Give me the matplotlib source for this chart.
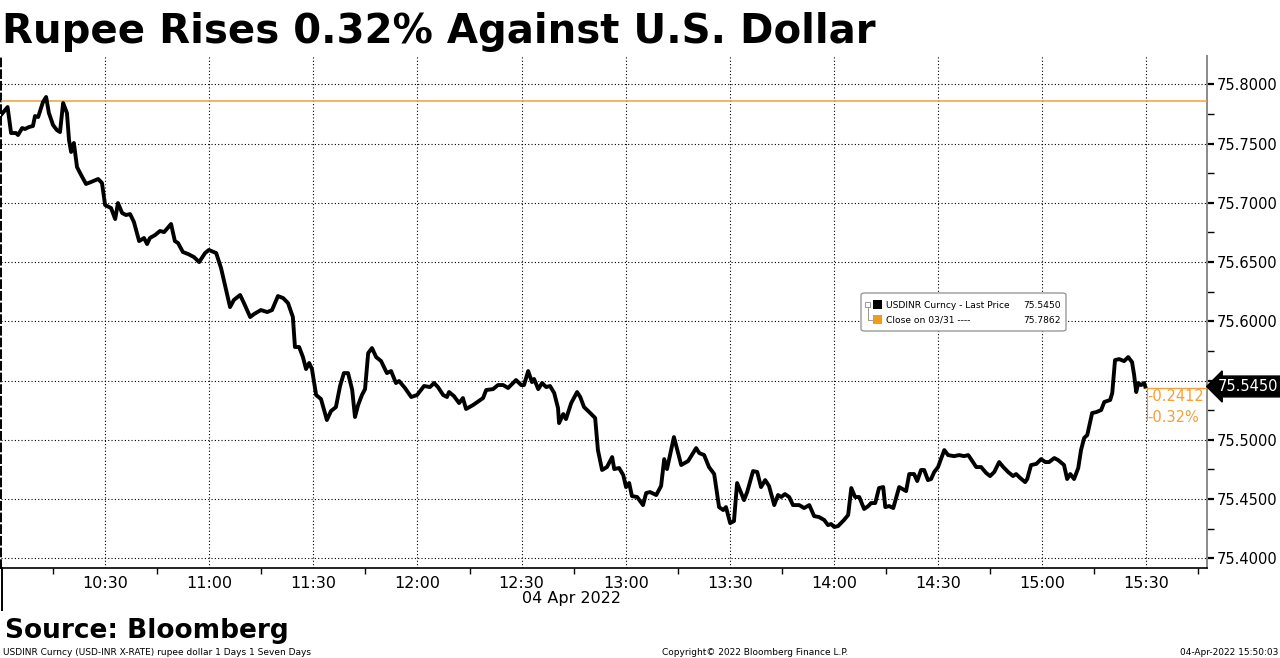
import numpy as np
import matplotlib
matplotlib.use("Agg")
from matplotlib import pyplot as plt
from matplotlib.patches import FancyBboxPatch, Rectangle
from matplotlib.lines import Line2D

# minutes after 10:00 on 04 Apr 2022
minutes = [0.0, 1.9, 2.9, 4.3, 4.9, 6.1, 6.9, 8.1, 9.2, 9.8, 10.7, 12.1, 13.0, 13.8, 15.0, 16.1,
           17.0, 17.9, 19.0, 19.6, 20.2, 21.0, 21.9, 23.1, 24.5, 25.9, 28.0, 29.1, 30.0, 31.7,
           32.9, 33.7, 34.9, 36.0, 37.2, 38.3, 39.8, 41.2, 42.1, 42.9, 44.4, 45.8, 47.0, 49.0,
           50.1, 51.0, 52.4, 53.9, 55.6, 57.1, 58.8, 59.9, 62.0, 63.4, 64.8, 66.0, 67.1, 68.9,
           70.0, 71.8, 72.9, 74.9, 76.7, 78.1, 79.8, 81.3, 82.7, 84.1, 84.7, 85.9, 87.0, 87.9,
           88.8, 89.6, 90.8, 92.2, 93.9, 95.1, 96.5, 97.7, 98.8, 100.0, 101.2, 102.0, 102.9,
           104.0, 104.9, 105.8, 106.9, 108.1, 109.5, 111.2, 112.4, 113.8, 114.7, 116.4, 118.2,
           119.9, 121.9, 123.6, 124.8, 125.9, 127.4, 128.5, 129.1, 130.5, 132.0, 133.1, 134.0,
           136.0, 138.9, 139.8, 141.8, 143.2, 144.7, 146.1, 148.4, 149.9, 150.7, 151.9, 153.0,
           153.6, 154.8, 155.9, 157.1, 158.2, 159.4, 160.5, 160.8, 162.0, 162.8, 164.3, 166.0,
           166.9, 168.0, 169.5, 171.2, 172.0, 173.2, 174.6, 176.1, 176.7, 178.1, 179.3, 180.1,
           181.0, 181.8, 183.3, 185.0, 185.9, 187.0, 188.8, 190.2, 191.1, 191.9, 193.9, 196.0,
           198.0, 200.3, 201.2, 202.6, 204.0, 205.5, 206.9, 208.1, 208.9, 210.1, 211.2, 212.1,
           214.1, 215.0, 216.7, 217.9, 219.0, 220.2, 221.3, 222.8, 223.9, 224.8, 225.9, 227.1,
           228.2, 230.0, 231.4, 232.9, 234.3, 235.7, 237.2, 238.3, 239.2, 240.1, 241.2, 242.9,
           244.1, 245.0, 246.1, 247.3, 248.7, 249.9, 250.7, 251.9, 253.0, 254.2, 254.8, 255.9,
           257.1, 258.8, 260.8, 261.7, 263.1, 264.0, 265.1, 266.0, 267.1, 268.0, 268.9, 270.0,
           271.8, 272.9, 274.6, 276.1, 277.5, 278.7, 279.5, 281.0, 282.4, 283.9, 285.0, 286.2,
           287.6, 288.8, 290.2, 291.6, 292.5, 293.7, 295.1, 295.7, 296.8, 298.3, 299.7, 300.9,
           302.0, 303.5, 304.6, 306.3, 307.2, 308.1, 309.2, 310.4, 311.2, 312.1, 313.0, 314.4,
           315.6, 317.0, 317.9, 319.6, 320.2, 321.0, 322.2, 323.6, 324.8, 325.9, 326.5, 327.1,
           327.7, 328.5, 329.4, 329.7]
price = [75.7741, 75.7808, 75.7589, 75.7589, 75.7572, 75.7631, 75.7623, 75.7640, 75.7648, 75.7732,
         75.7724, 75.7851, 75.7893, 75.7758, 75.7656, 75.7614, 75.7597, 75.7842, 75.7758, 75.7530,
         75.7429, 75.7505, 75.7302, 75.7234, 75.7159, 75.7175, 75.7201, 75.7167, 75.6981, 75.6956,
         75.6863, 75.6998, 75.6914, 75.6897, 75.6905, 75.6838, 75.6677, 75.6703, 75.6652, 75.6703,
         75.6728, 75.6762, 75.6753, 75.6821, 75.6677, 75.6661, 75.6585, 75.6568, 75.6542, 75.6500,
         75.6576, 75.6602, 75.6576, 75.6450, 75.6272, 75.6120, 75.6180, 75.6222, 75.6154, 75.6036,
         75.6061, 75.6095, 75.6078, 75.6095, 75.6213, 75.6196, 75.6154, 75.6036, 75.5783, 75.5783,
         75.5698, 75.5597, 75.5648, 75.5597, 75.5378, 75.5344, 75.5167, 75.5243, 75.5276, 75.5454,
         75.5563, 75.5563, 75.5420, 75.5192, 75.5293, 75.5378, 75.5428, 75.5732, 75.5774, 75.5698,
         75.5665, 75.5563, 75.5580, 75.5479, 75.5496, 75.5437, 75.5361, 75.5378, 75.5454, 75.5445,
         75.5479, 75.5445, 75.5378, 75.5361, 75.5403, 75.5369, 75.5310, 75.5352, 75.5260, 75.5293,
         75.5352, 75.5420, 75.5428, 75.5462, 75.5462, 75.5437, 75.5504, 75.5462, 75.5462, 75.5580,
         75.5487, 75.5513, 75.5428, 75.5479, 75.5445, 75.5454, 75.5395, 75.5268, 75.5141, 75.5217,
         75.5175, 75.5310, 75.5403, 75.5361, 75.5276, 75.5234, 75.5184, 75.4913, 75.4745, 75.4770,
         75.4854, 75.4753, 75.4762, 75.4702, 75.4601, 75.4635, 75.4525, 75.4517, 75.4449, 75.4551,
         75.4559, 75.4534, 75.4610, 75.4837, 75.4753, 75.5023, 75.4787, 75.4821, 75.4930, 75.4888,
         75.4871, 75.4770, 75.4711, 75.4432, 75.4407, 75.4432, 75.4297, 75.4314, 75.4635, 75.4491,
         75.4559, 75.4736, 75.4728, 75.4601, 75.4660, 75.4610, 75.4449, 75.4534, 75.4517, 75.4542,
         75.4517, 75.4449, 75.4449, 75.4424, 75.4449, 75.4356, 75.4348, 75.4323, 75.4280, 75.4289,
         75.4264, 75.4272, 75.4323, 75.4365, 75.4593, 75.4517, 75.4517, 75.4416, 75.4441, 75.4466,
         75.4466, 75.4593, 75.4601, 75.4432, 75.4441, 75.4424, 75.4601, 75.4567, 75.4711, 75.4711,
         75.4652, 75.4745, 75.4745, 75.4660, 75.4669, 75.4728, 75.4770, 75.4913, 75.4871, 75.4862,
         75.4871, 75.4862, 75.4871, 75.4837, 75.4770, 75.4770, 75.4719, 75.4694, 75.4728, 75.4812,
         75.4770, 75.4728, 75.4694, 75.4711, 75.4677, 75.4643, 75.4669, 75.4787, 75.4796, 75.4837,
         75.4812, 75.4812, 75.4846, 75.4829, 75.4787, 75.4669, 75.4711, 75.4669, 75.4762, 75.4913,
         75.5015, 75.5040, 75.5226, 75.5234, 75.5251, 75.5319, 75.5336, 75.5395, 75.5673, 75.5681,
         75.5664, 75.5698, 75.5656, 75.5547, 75.5403, 75.5479, 75.5462, 75.5479, 75.5450]

prev_close = 75.7862
last_price = 75.5450
tick_minutes = [30, 60, 90, 120, 150, 180, 210, 240, 270, 300, 330]
tick_labels = ["10:30", "11:00", "11:30", "12:00", "12:30", "13:00",
               "13:30", "14:00", "14:30", "15:00", "15:30"]
y_ticks = [75.40, 75.45, 75.50, 75.55, 75.60, 75.65, 75.70, 75.75, 75.80]

W, H = 1280, 658
ORANGE = "#EDA23A"

def fx(px):  # pixel -> figure fraction
    return px / W

def fy(py):
    return 1 - py / H

fig = plt.figure(figsize=(12.8, 6.58), dpi=100)
ax = fig.add_axes([fx(1), fy(568), fx(1207 - 1), (568 - 56) / H])

ax.plot(minutes, price, color="black", lw=2.8, solid_joinstyle="round", zorder=4)
ax.axhline(prev_close, color=ORANGE, lw=1.1, zorder=3)

ax.set_xlim(0, 347.5)
ax.set_ylim(75.3918, 75.8239)

# grid
for m in tick_minutes:
    ax.axvline(m, color="black", lw=0.8, ls=(0, (1, 2)), zorder=1)
for v in y_ticks:
    ax.axhline(v, color="black", lw=0.8, ls=(0, (1, 2)), zorder=1)

# spines
ax.spines["top"].set_visible(False)
ax.spines["left"].set_linestyle((0, (4, 2)))
ax.spines["left"].set_linewidth(1.4)
ax.spines["right"].set_color("#8a8a8a")
ax.spines["right"].set_linewidth(1.4)
ax.spines["bottom"].set_linewidth(1.2)

# x axis
ax.set_xticks(tick_minutes)
ax.set_xticklabels(tick_labels)
ax.set_xticks([m - 15 for m in tick_minutes] + [345], minor=True)
ax.tick_params(axis="x", which="major", length=0, pad=6, labelsize=11.5)
ax.tick_params(axis="x", which="minor", length=4, width=1, direction="out")

# y axis on the right
ax.yaxis.tick_right()
ax.set_yticks(y_ticks)
ax.set_yticklabels(["" if abs(v - 75.55) < 1e-6 else f"{v:.4f}" for v in y_ticks])
ax.set_yticks([v + 0.025 for v in y_ticks[:-1]], minor=True)
ax.tick_params(axis="y", which="major", length=5, width=1.6, direction="out",
               labelsize=10.5, pad=2, left=False)
ax.tick_params(axis="y", which="minor", length=5, width=1, direction="out", left=False)

# left edge continues below the axis
fig.add_artist(Line2D([fx(1.5), fx(1.5)], [fy(568), fy(610)], color="black", lw=1.4))

fig.text(fx(571), fy(599), "04 Apr 2022", ha="center", va="center", fontsize=11.5)

# last price tag
ytf = ax.get_yaxis_transform()
ax.text(1.009, last_price, "75.5450", transform=ytf, ha="left", va="center",
        color="white", fontsize=10.5, clip_on=False, zorder=10,
        bbox=dict(boxstyle="larrow,pad=0.2", fc="black", ec="black"))
ax.plot([minutes[-1], 347.5], [last_price - 0.0012] * 2, color=ORANGE, lw=1, zorder=3)
ax.plot([minutes[-1] + 0.6] * 2, [last_price - 0.0012, last_price - 0.028],
        color=ORANGE, lw=0.8, zorder=3)
ax.text(minutes[-1] + 0.6, 75.5362, "-0.2412", color=ORANGE, fontsize=10.5,
        ha="left", va="center", zorder=5)
ax.text(minutes[-1] + 0.6, 75.5190, "-0.32%", color=ORANGE, fontsize=10.5,
        ha="left", va="center", zorder=5)

# legend box
fig.add_artist(FancyBboxPatch((fx(861), fy(331)), fx(205), (331 - 293) / H,
                              boxstyle="round,pad=0,rounding_size=0.003",
                              fc="white", ec="#9a9a9a", lw=1, transform=fig.transFigure))
fig.add_artist(Rectangle((fx(873), fy(309)), fx(9), 9 / H, fc="black", ec="none",
                         transform=fig.transFigure))
fig.add_artist(Rectangle((fx(873), fy(324)), fx(9), 9 / H, fc="#F39A1E", ec="none",
                         transform=fig.transFigure))
fig.add_artist(Rectangle((fx(865), fy(307)), fx(5), 5 / H, fc="white", ec="#888888", lw=0.6,
                         transform=fig.transFigure))
fig.add_artist(Line2D([fx(867.5), fx(867.5), fx(872)], [fy(307), fy(320), fy(320)],
                      color="#888888", lw=0.6))
fig.text(fx(886), fy(305), "USDINR Curncy - Last Price", fontsize=6.6, va="center")
fig.text(fx(1061), fy(305), "75.5450", fontsize=6.6, va="center", ha="right")
fig.text(fx(886), fy(320), "Close on 03/31 ----", fontsize=6.6, va="center")
fig.text(fx(1061), fy(320), "75.7862", fontsize=6.6, va="center", ha="right")

# titles and footer
fig.text(fx(2), fy(43), "Rupee Rises 0.32% Against U.S. Dollar", fontsize=29,
         fontweight="bold", va="baseline", ha="left")
fig.text(fx(5), fy(638), "Source: Bloomberg", fontsize=19, fontweight="bold",
         va="baseline", ha="left")
fig.text(fx(3), fy(655), "USDINR Curncy (USD-INR X-RATE) rupee dollar 1 Days 1 Seven Days",
         fontsize=6.5, va="baseline", ha="left")
fig.text(fx(755), fy(655), "Copyright\u00a9 2022 Bloomberg Finance L.P.", fontsize=6.5,
         va="baseline", ha="center")
fig.text(fx(1278), fy(655), "04-Apr-2022 15:50:03", fontsize=6.5, va="baseline", ha="right")

fig.savefig("out.png", dpi=100, facecolor="white")
